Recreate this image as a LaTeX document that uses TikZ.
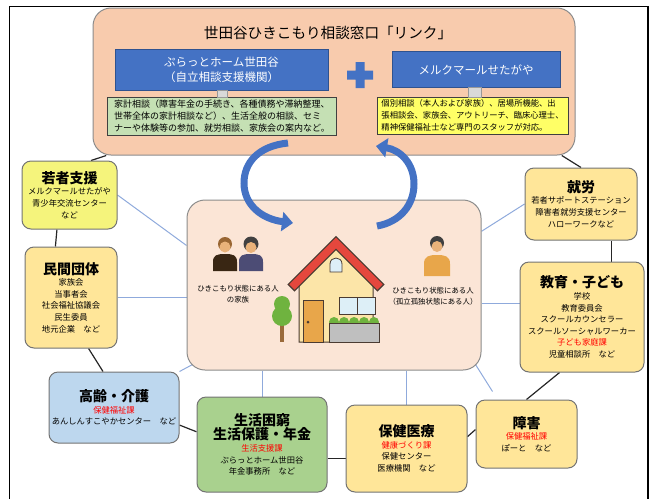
\documentclass[tikz,border=0pt]{standalone}
\usepackage{fontspec}
\setmainfont{Noto Sans CJK JP}
\usepackage{tikz}
\usetikzlibrary{arrows.meta,calc,backgrounds}
\definecolor{peach}{HTML}{F8CBAD}
\definecolor{homefill}{HTML}{FBE5D6}
\definecolor{ochre}{HTML}{FFE699}
\definecolor{lemon}{HTML}{F5F47C}
\definecolor{skyfill}{HTML}{BDD7EE}
\definecolor{leaf}{HTML}{A9D18E}
\definecolor{mint}{HTML}{C5E0B4}
\definecolor{canary}{HTML}{FFFF66}
\definecolor{accent}{HTML}{4472C4}
\definecolor{accentdark}{HTML}{2F528F}
\definecolor{spokeblue}{HTML}{8FAADC}
\definecolor{deptred}{HTML}{FF0000}
\definecolor{roofred}{HTML}{E5473D}
\definecolor{wall}{HTML}{FCE5A8}
\definecolor{glass}{HTML}{DDEFF7}
\definecolor{doorbrown}{HTML}{E8A64A}
\definecolor{treegreen}{HTML}{6FB33F}
\definecolor{trunk}{HTML}{9A6A3A}
\definecolor{outline}{HTML}{4A3B32}
\definecolor{skin}{HTML}{E9B27A}

\newcommand{\orgtitle}[1]{{\fontsize{14}{17}\selectfont\bfseries #1}}
\newcommand{\deptname}[1]{\textcolor{deptred}{#1}}

\begin{document}
\begin{tikzpicture}[x=1pt,y=-1pt,
  hub/.style={draw=black!45,fill=peach,rounded corners=18pt,line width=1pt},
  blk/.style={draw=accentdark,fill=accent,text=white,align=center,
              font=\fontsize{11.5}{14.5}\selectfont},
  memo/.style={draw=black!75,line width=0.8pt,align=left,inner sep=2pt,
               font=\fontsize{9}{12}\selectfont},
  org/.style={draw=black!55,line width=1pt,rounded corners=9pt,fill=ochre,
              align=center,inner sep=2pt,font=\fontsize{8.3}{11.6}\selectfont},
  joint/.style={draw=black!40,fill=black!15,inner sep=0pt},
  ring/.style={draw=black!85,line width=1.2pt},
  spoke/.style={draw=spokeblue,line width=1pt},
  swirl/.style={draw=accent,line width=7pt,-{Triangle[length=11pt,width=19pt]}}]

\useasboundingbox (0,0) rectangle (653,499);
\draw[line width=1.5pt] (9.5,499) -- (9.5,6.5) -- (648,6.5) -- (648,499);

% --- consultation window ---
\node[hub,minimum width=482,minimum height=147] (link) at (334,81.5) {};
\node[font=\fontsize{14.6}{17}\selectfont] (linkTitle) at (328,33)
  {世田谷ひきこもり相談窓口「リンク」};
\node[blk,minimum width=213,minimum height=41] (plat) at (221.5,69.5)
  {ぷらっとホーム世田谷\\（自立相談支援機関）};
\node[blk,minimum width=168,minimum height=36] (merk) at (476,69.5)
  {メルクマールせたがや};
\fill[accent] (355.5,62) rectangle (364.5,88) (347,70.5) rectangle (373,79.5);
\node[memo,fill=mint,minimum width=229,minimum height=38] (kakei) at (222,116)
  {家計相談（障害年金の手続き、各種債務や滞納整理、\\
   世帯全体の家計相談など）、生活全般の相談、セミ\\
   ナーや体験等の参加、就労相談、家族会の案内など。};
\node[memo,fill=canary,minimum width=191,minimum height=37,
      font=\fontsize{8.3}{12}\selectfont] (kobetsu) at (472.5,115.5)
  {個別相談（本人および家族）、居場所機能、出\\
   張相談会、家族会、アウトリーチ、臨床心理士、\\
   精神保健福祉士など専門のスタッフが対応。};
\node[joint,minimum width=10,minimum height=7] (jointL)
  at ($(plat.south)!.5!(kakei.north)$) {};
\node[joint,minimum width=13,minimum height=9.5] (jointR)
  at ($(merk.south)!.5!(kobetsu.north)$) {};

% --- home in the middle ---
\node[hub,fill=homefill,minimum width=294,minimum height=170] (home) at (334,285) {};

% --- surrounding services ---
\node[org,fill=lemon,minimum width=95,minimum height=68] (wakamono) at (69.5,195)
  {\orgtitle{若者支援}\\メルクマールせたがや\\青少年交流センター\\など};
\node[org,minimum width=92,minimum height=101] (minkan) at (71,297.5)
  {\orgtitle{民間団体}\\家族会\\当事者会\\社会福祉協議会\\民生委員\\地元企業　など};
\node[org,fill=skyfill,minimum width=130,minimum height=71] (korei) at (114,407.5)
  {\orgtitle{高齢・介護}\\\deptname{保健福祉課}\\あんしんすこやかセンター　など};
\node[org,fill=leaf,minimum width=130,minimum height=95] (seikatsu) at (262,444.5)
  {\orgtitle{生活困窮}\\\orgtitle{生活保護・年金}\\\deptname{生活支援課}\\
   ぷらっとホーム世田谷\\年金事務所　など};
\node[org,minimum width=121,minimum height=87] (hoken) at (406.5,448.5)
  {\orgtitle{保健医療}\\\deptname{健康づくり課}\\保健センター\\医療機関　など};
\node[org,minimum width=101,minimum height=68] (shogai) at (526.5,434)
  {\orgtitle{障害}\\\deptname{保健福祉課}\\ぽーと　など};
\node[org,minimum width=124,minimum height=110] (kyoiku) at (582,317)
  {\orgtitle{教育・子ども}\\学校\\教育委員会\\スクールカウンセラー\\
   スクールソーシャルワーカー\\\deptname{子ども家庭課}\\児童相談所　など};
\node[org,minimum width=112,minimum height=72] (shuro) at (581,204)
  {\orgtitle{就労}\\若者サポートステーション\\障害者就労支援センター\\ハローワークなど};

\begin{scope}[on background layer]
% outer ring
\draw[ring] (link.198) -- (wakamono.58);
\draw[ring] (wakamono.250) -- (minkan.107);
\draw[ring] (minkan.289) -- (korei.107);
\draw[ring] (korei.345) -- (seikatsu.169);
\draw[ring] (seikatsu.348) -- (seikatsu.348 -| hoken.west);
\draw[ring] (hoken.11) -- (shogai.175);
\draw[ring] (shogai.north) -- (kyoiku.248);
\draw[ring] (kyoiku.62) -- (kyoiku.62 |- shuro.south);
\draw[ring] (shuro.north) -- (link.342);
% spokes out of the home
\draw[spoke] (wakamono.east) -- (home.165);
\draw[spoke] (minkan.east) -- (minkan.east -| home.west);
\draw[spoke] (korei.north east) -- ($(home.south west)+(6,-6)$);
\draw[spoke] (seikatsu.north) -- (seikatsu.north |- home.south);
\draw[spoke] (hoken.north) -- (hoken.north |- home.south);
\draw[spoke] ($(home.south east)+(-6,-6)$) -- ($(shogai.north west)+(17,-8)$);
\draw[spoke] (kyoiku.168) -- (kyoiku.168 -| home.east);
\draw[spoke] (shuro.west) -- (home.20);
\end{scope}

% house
\filldraw[fill=wall,draw=outline,line width=1pt]
  (299,342) -- (299,280) -- (336,243) -- (373,280) -- (373,342) -- cycle;
\draw[outline,line width=10pt] (291,288) -- (336,243) -- (381,288);
\draw[roofred,line width=7.5pt] (292,287) -- (336,243) -- (380,287);
\filldraw[fill=glass,draw=outline,line width=0.8pt]
  (330,272) -- (330,264) .. controls (330,256) and (342,256) .. (342,264) -- (342,272) -- cycle;
\filldraw[fill=doorbrown,draw=outline,line width=0.8pt] (303,300) rectangle (323,342);
\fill[outline] (308,322) circle[radius=1.5];
\filldraw[fill=glass,draw=outline,line width=0.8pt] (339,297) rectangle (375,314);
\draw[outline,line width=0.8pt] (357,297) -- (357,314);
\foreach \bx in {334,344,354,364,374}
  \fill[treegreen] (\bx,322) circle[radius=5];
\filldraw[fill=black!25,draw=outline,line width=0.8pt] (329,323) rectangle (379,342);
\fill[trunk] (280,318) rectangle (284,342);
\fill[treegreen] (282,316) circle[radius=10] (282,304) circle[radius=8];

% people
\fill[black!70!brown] (213,271) -- (213,262) .. controls (213,255) and (217,254) .. (225,254)
  .. controls (233,254) and (237,255) .. (237,262) -- (237,271) -- cycle;
\fill[brown!80!black] (225,244) circle[radius=7];
\fill[skin] (225,247) circle[radius=5.5];
\fill[black!60!blue!40!gray] (239,271) -- (239,262) .. controls (239,255) and (243,254) .. (251,254)
  .. controls (259,254) and (263,255) .. (263,262) -- (263,271) -- cycle;
\fill[black!75] (251,244) circle[radius=7.5];
\fill[skin] (251,247.5) circle[radius=5.5];
\fill[doorbrown] (424,276) -- (424,264) .. controls (424,256) and (429,255) .. (437,255)
  .. controls (445,255) and (450,256) .. (450,264) -- (450,276) -- cycle;
\fill[black!75] (437,243) circle[radius=7];
\fill[skin] (437,246.5) circle[radius=5.5];
\node[font=\fontsize{7.4}{11}\selectfont,align=center] (familyLbl) at (238,294)
  {ひきこもり状態にある人\\の家族};
\node[font=\fontsize{7.4}{11}\selectfont,align=center] (selfLbl) at (433,296)
  {ひきこもり状態にある人\\（孤立孤独状態にある人）};

% two-way arrows between window and home
\coordinate (outL) at (288,143);
\coordinate (inL) at (293,223);
\coordinate (outR) at (377,226);
\coordinate (inR) at (376,146);
\draw[swirl] (outL) .. controls (258,146) and (244,163) .. (244,183)
  .. controls (244,205) and (262,219) .. (inL);
\draw[swirl] (outR) .. controls (400,222) and (414,205) .. (414,184)
  .. controls (414,163) and (400,150) .. (inR);
\end{tikzpicture}
\end{document}
